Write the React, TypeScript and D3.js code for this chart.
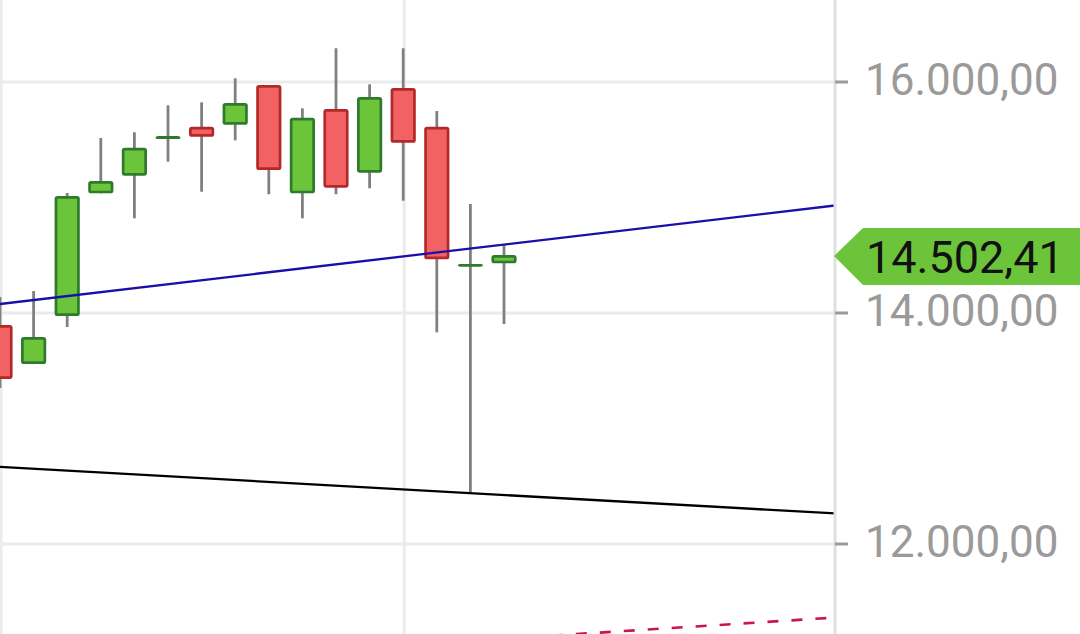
import React from "react";
import * as d3 from "d3";

const W = 1080;
const H = 634;

// OHLC series (index = trading session)
const openVals = [13896, 13558, 13974, 15036, 15189, 15506, 15613, 15630, 15974, 15036, 15766, 15215, 15948, 15613, 14413, 14430];
const highVals = [14138, 14190, 15039, 15515, 15565, 15798, 15824, 16032, 15974, 15772, 16292, 15980, 16292, 15749, 14944, 14589];
const lowVals = [13351, 13558, 13879, 15036, 14820, 15310, 15050, 15495, 15028, 14820, 15028, 15080, 14972, 13833, 12439, 13905];
const closeVals = [13429, 13792, 15013, 15143, 15431, 15532, 15526, 15818, 15238, 15691, 15085, 15870, 15474, 14465, 14413, 14502.41];

const yTicks = [12000, 14000, 16000];
const xGridIdx = [0, 12];
const lastPrice = 14502.41;

// trend lines: [index, value] endpoints
const blueTrend: [number, number][] = [[0, 14078], [25, 14936]];
const blackTrend: [number, number][] = [[0, 12667], [25, 12262]];
const redTrend: [number, number][] = [[15, 11180], [25, 11366]];

const fmt = (v: number) => {
  const s = v.toFixed(2);
  const [int, dec] = s.split(".");
  return int.replace(/\B(?=(\d{3})+(?!\d))/g, ".") + "," + dec;
};

export default function App() {
  const plotRight = 835;
  const x = d3.scaleLinear().domain([0, 1]).range([0, 33.6]);
  const y = d3.scaleLinear().domain([12000, 16000]).range([544, 82]);
  const line = d3.line<[number, number]>().x((d) => x(d[0])).y((d) => y(d[1]));

  const bodyW = 22.5;
  const sw = 2.7;
  const greenFill = "#6cc43a";
  const greenStroke = "#2f7a2c";
  const redFill = "#f26262";
  const redStroke = "#b3282a";

  const ly = y(lastPrice) + 1;

  return (
    <svg width={W} height={H} style={{ position: "absolute", left: 0, top: 0, background: "#fff" }}>
      <defs>
        <clipPath id="plot">
          <rect x={0} y={0} width={plotRight} height={H} />
        </clipPath>
      </defs>
      {/* grid */}
      {yTicks.map((t) => (
        <line key={"g" + t} x1={0} x2={plotRight} y1={y(t)} y2={y(t)} stroke="#ebebeb" strokeWidth={3} />
      ))}
      {xGridIdx.map((i) => (
        <line key={"v" + i} x1={x(i) + 1} x2={x(i) + 1} y1={0} y2={H} stroke="#ebebeb" strokeWidth={3} />
      ))}
      {/* candles */}
      <g clipPath="url(#plot)">
        {openVals.map((o, i) => {
          const c = closeVals[i];
          const up = c >= o;
          const cx = x(i);
          const top = y(Math.max(o, c));
          const bot = y(Math.min(o, c));
          const h = Math.max(0.01, bot - top - sw);
          return (
            <g key={i}>
              <line x1={cx} x2={cx} y1={y(highVals[i])} y2={y(lowVals[i])} stroke="#808080" strokeWidth={2.8} />
              <rect
                x={cx - bodyW / 2}
                y={h <= 0.01 ? (top + bot) / 2 : top + sw / 2}
                width={bodyW}
                height={h}
                rx={1.5}
                fill={up ? greenFill : redFill}
                stroke={up ? greenStroke : redStroke}
                strokeWidth={sw}
              />
            </g>
          );
        })}
        <path d={line(blueTrend) || ""} fill="none" stroke="#1a0fa6" strokeWidth={2.3} />
        <path d={line(blackTrend) || ""} fill="none" stroke="#000" strokeWidth={2.3} />
        <path d={line(redTrend) || ""} fill="none" stroke="#c8174a" strokeWidth={2.6} strokeDasharray="11 13" />
      </g>
      {/* right axis */}
      <line x1={plotRight} x2={plotRight} y1={0} y2={H} stroke="#e0e0e0" strokeWidth={3} />
      {yTicks.map((t) => (
        <g key={"t" + t}>
          <line x1={plotRight} x2={848} y1={y(t)} y2={y(t)} stroke="#9a9a9a" strokeWidth={3} />
          <text x={865} y={y(t) + 13} fontFamily="Roboto" fontSize={44} fill="#9a9a9a">
            {fmt(t)}
          </text>
        </g>
      ))}
      {/* last price label */}
      <polygon
        points={`834,${ly} 863,${ly - 28} ${W},${ly - 28} ${W},${ly + 29} 863,${ly + 29}`}
        fill="#6cc43a"
      />
      <text x={866} y={ly + 17} fontFamily="Roboto" fontSize={45} fill="#111">
        {fmt(lastPrice)}
      </text>
    </svg>
  );
}
